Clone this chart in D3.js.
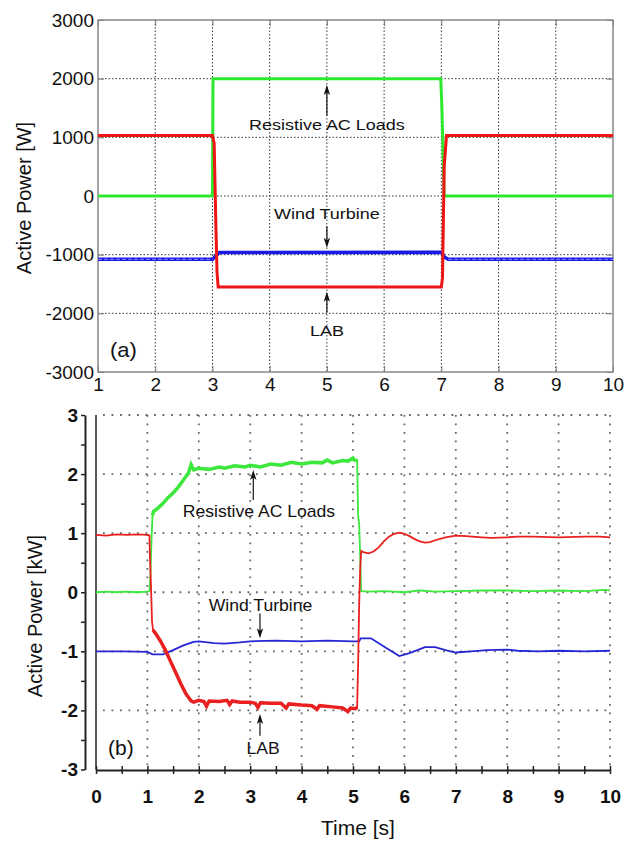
<!DOCTYPE html>
<html>
<head>
<meta charset="utf-8">
<script src="https://cdn.jsdelivr.net/npm/d3@7"></script>
<style>
  body { margin: 0; background: #fff; }
  text { font-family: "Liberation Sans", Arial, sans-serif; fill: #111; }
</style>
</head>
<body>
<svg id="chart" width="626" height="841"></svg>
<script>
// ---- panel (a): simulation, power in W ----
const timeTicksA = [1, 2, 3, 4, 5, 6, 7, 8, 9, 10];
const powerTicksA = [-3000, -2000, -1000, 0, 1000, 2000, 3000];

const loadsA = [[1, 0], [3.0, 0], [3.01, 2000], [6.99, 2000], [7.01, 1500], [7.05, 0], [10, 0]];
const labA = [[1, 1030], [3.0, 1030], [3.03, 900], [3.06, -500], [3.08, -1300], [3.1, -1550],
              [7.0, -1550], [7.02, -1400], [7.05, 500], [7.09, 1030], [10, 1030]];
const windA = [[1, -1080], [3.0, -1080], [3.05, -1030], [3.12, -965], [7.0, -960],
               [7.05, -1040], [7.12, -1080], [10, -1080]];

// ---- panel (b): experiment, power in kW ----
const timeTicksB = [0, 1, 2, 3, 4, 5, 6, 7, 8, 9, 10];
const powerTicksB = [-3, -2, -1, 0, 1, 2, 3];

const labB = [[0, 0.97], [0.2, 0.96], [0.4, 0.98], [0.6, 0.97], [0.8, 0.98], [1.0, 0.97], [1.04, 0.96],
  [1.05, 0.6], [1.07, 0.1], [1.09, -0.5], [1.11, -0.64], [1.16, -0.7], [1.25, -0.82], [1.35, -0.98],
  [1.45, -1.17], [1.55, -1.36], [1.65, -1.55], [1.75, -1.72], [1.85, -1.84], [1.9, -1.86], [2.0, -1.83],
  [2.1, -1.85], [2.15, -1.93], [2.2, -1.84], [2.4, -1.85], [2.55, -1.83], [2.6, -1.9], [2.65, -1.84],
  [2.8, -1.86], [3.0, -1.86], [3.1, -1.88], [3.15, -1.95], [3.2, -1.87], [3.4, -1.88], [3.6, -1.88],
  [3.7, -1.96], [3.75, -1.89], [4.0, -1.91], [4.2, -1.92], [4.3, -1.98], [4.35, -1.92], [4.6, -1.94],
  [4.8, -1.96], [4.9, -2.02], [4.95, -1.96], [5.05, -1.97], [5.08, -1.95], [5.1, -1.2], [5.12, -0.2],
  [5.14, 0.4], [5.16, 0.7], [5.2, 0.68], [5.3, 0.66], [5.4, 0.69], [5.5, 0.76], [5.6, 0.86], [5.7, 0.94],
  [5.8, 0.99], [5.9, 1.01], [6.0, 0.99], [6.1, 0.95], [6.2, 0.9], [6.3, 0.86], [6.4, 0.84], [6.5, 0.85],
  [6.6, 0.88], [6.8, 0.93], [7.0, 0.96], [7.2, 0.95], [7.5, 0.93], [7.7, 0.92], [8.0, 0.93], [8.2, 0.94],
  [8.5, 0.94], [9.0, 0.93], [9.5, 0.94], [9.8, 0.94], [10, 0.93]];

const loadsB = [[0, 0], [0.2, 0.01], [0.4, 0], [0.6, 0.01], [0.8, 0], [1.0, 0.01], [1.04, 0.02],
  [1.06, 0.3], [1.08, 0.9], [1.1, 1.3], [1.12, 1.37], [1.2, 1.42], [1.3, 1.5], [1.4, 1.6], [1.5, 1.68],
  [1.6, 1.78], [1.7, 1.9], [1.8, 2.02], [1.85, 2.16], [1.9, 2.07], [2.0, 2.1], [2.2, 2.08], [2.4, 2.12],
  [2.5, 2.1], [2.7, 2.14], [2.9, 2.12], [3.0, 2.15], [3.2, 2.12], [3.4, 2.17], [3.6, 2.15], [3.8, 2.2],
  [4.0, 2.17], [4.2, 2.2], [4.4, 2.19], [4.5, 2.24], [4.6, 2.19], [4.8, 2.23], [4.9, 2.22], [5.0, 2.27],
  [5.04, 2.22], [5.08, 2.24], [5.1, 1.3], [5.12, 1.15], [5.16, 0.02], [5.3, 0.01], [5.6, 0.02], [6.0, 0],
  [6.3, 0.03], [6.6, 0.01], [7.0, 0.02], [7.5, 0.03], [8.0, 0.03], [8.5, 0.02], [9.0, 0.03],
  [9.5, 0.02], [9.9, 0.04], [10, 0.03]];

const windB = [[0, -1.0], [0.5, -1.0], [1.0, -1.01], [1.1, -1.05], [1.3, -1.05], [1.5, -0.98],
  [1.7, -0.9], [1.9, -0.84], [2.0, -0.83], [2.3, -0.86], [2.5, -0.87], [2.8, -0.85], [3.0, -0.83],
  [3.5, -0.82], [4.0, -0.83], [4.5, -0.82], [5.0, -0.83], [5.12, -0.83], [5.15, -0.78], [5.35, -0.78],
  [5.6, -0.92], [5.9, -1.08], [6.1, -1.03], [6.4, -0.93], [6.6, -0.93], [6.8, -0.98], [7.0, -1.02],
  [7.3, -1.0], [7.6, -0.98], [8.0, -0.97], [8.2, -0.99], [8.6, -1.0], [9.0, -0.99], [9.5, -1.0], [10, -0.99]];

const svg = d3.select('#chart');

// stretched text helper (the source figure is a bit wider than tall)
function label(g, x, y, str, size, sx, opts = {}) {
  return g.append('text')
    .attr('transform', `translate(${x},${y}) scale(${sx},1)`)
    .attr('text-anchor', opts.anchor || 'middle')
    .attr('font-size', size)
    .attr('font-weight', opts.weight || 'normal')
    .text(str);
}

function arrow(g, x, yFrom, yTip) {
  const dir = yTip < yFrom ? 1 : -1;
  g.append('line').attr('x1', x).attr('x2', x).attr('y1', yFrom).attr('y2', yTip + dir * 6)
    .attr('stroke', '#111').attr('stroke-width', 1.2);
  g.append('path')
    .attr('d', `M${x},${yTip} L${x - 3.2},${yTip + dir * 10} L${x},${yTip + dir * 7.5} L${x + 3.2},${yTip + dir * 10} Z`)
    .attr('fill', '#111');
}

// plain integer labels with an ascii hyphen for negatives
const plain = d => String(d);

// =============== panel (a) ===============
{
  const x = d3.scaleLinear().domain([1, 10]).range([98, 613]);
  const y = d3.scaleLinear().domain([-3000, 3000]).range([372, 20]);
  const g = svg.append('g').attr('class', 'panel-a');

  // grid
  g.append('g').selectAll('line').data(timeTicksA.slice(1, -1)).join('line')
    .attr('x1', d => x(d)).attr('x2', d => x(d)).attr('y1', y(3000)).attr('y2', y(-3000))
    .attr('stroke', '#333').attr('stroke-width', 1).attr('stroke-dasharray', '1.5,2');
  g.append('g').selectAll('line').data(powerTicksA.slice(1, -1)).join('line')
    .attr('x1', x(1)).attr('x2', x(10)).attr('y1', d => y(d)).attr('y2', d => y(d))
    .attr('stroke', '#333').attr('stroke-width', 1).attr('stroke-dasharray', '1.5,2');

  // axes with inner ticks
  const ax = (sel) => {
    sel.select('.domain').remove();
    sel.selectAll('.tick line').attr('stroke', '#777');
    sel.selectAll('text').attr('font-size', 19).attr('font-family', '"Liberation Sans", Arial, sans-serif').attr('fill', '#111');
  };
  g.append('g').attr('transform', `translate(0,${y(-3000)})`)
    .call(d3.axisBottom(x).tickValues(timeTicksA).tickFormat(plain).tickSize(-6).tickPadding(6)).call(ax);
  g.append('g').attr('transform', `translate(0,${y(3000)})`)
    .call(d3.axisTop(x).tickValues(timeTicksA).tickSize(-6).tickFormat('')).call(ax);
  g.append('g').attr('transform', `translate(${x(1)},0)`)
    .call(d3.axisLeft(y).tickValues(powerTicksA).tickFormat(plain).tickSize(-6).tickPadding(4)).call(ax);
  g.append('g').attr('transform', `translate(${x(10)},0)`)
    .call(d3.axisRight(y).tickValues(powerTicksA).tickSize(-6).tickFormat('')).call(ax);

  g.append('rect').attr('x', x(1)).attr('y', y(3000))
    .attr('width', x(10) - x(1)).attr('height', y(-3000) - y(3000))
    .attr('fill', 'none').attr('stroke', '#888').attr('stroke-width', 1.5);

  const line = d3.line().x(d => x(d[0])).y(d => y(d[1]));
  g.append('path').datum(loadsA).attr('d', line).attr('fill', 'none').attr('stroke', '#2ee82e').attr('stroke-width', 3);
  g.append('path').datum(windA).attr('d', line).attr('fill', 'none').attr('stroke', '#1a1ae6').attr('stroke-width', 3.5);
  g.append('path').datum(windA.filter(d => d[0] <= 3.0)).attr('d', line).attr('fill', 'none')
    .attr('stroke', '#8a8aff').attr('stroke-width', 1).attr('stroke-dasharray', '4,2');
  g.append('path').datum(windA.filter(d => d[0] >= 7.12)).attr('d', line).attr('fill', 'none')
    .attr('stroke', '#8a8aff').attr('stroke-width', 1).attr('stroke-dasharray', '4,2');
  g.append('path').datum(labA).attr('d', line).attr('fill', 'none').attr('stroke', '#ee1515').attr('stroke-width', 3);

  // annotations
  label(g, x(5), y(1130), 'Resistive AC Loads', 15, 1.2);
  arrow(g, x(5), y(1370), y(1890));
  label(g, x(5), y(-400), 'Wind Turbine', 15, 1.2);
  arrow(g, x(5), y(-515), y(-880));
  label(g, x(5), y(-2390), 'LAB', 15, 1.2);
  arrow(g, x(5), y(-1990), y(-1630));
  label(g, 110, 357, '(a)', 20, 1.1, { anchor: 'start' });

  g.append('text').attr('transform', `translate(31,${(y(3000) + y(-3000)) / 2 + 2}) rotate(-90)`)
    .attr('text-anchor', 'middle').attr('font-size', 20).text('Active Power [W]');
}

// =============== panel (b) ===============
{
  const x = d3.scaleLinear().domain([0, 10]).range([96, 610]);
  const y = d3.scaleLinear().domain([-3, 3]).range([769.5, 415]);
  const g = svg.append('g').attr('class', 'panel-b');

  // dotted grid
  g.append('g').selectAll('line').data(timeTicksB.slice(1)).join('line')
    .attr('x1', d => x(d)).attr('x2', d => x(d)).attr('y1', y(3)).attr('y2', y(-3))
    .attr('stroke', '#666').attr('stroke-width', 1.8).attr('stroke-dasharray', '1.8,6.7');
  g.append('g').selectAll('line').data(powerTicksB.slice(1)).join('line')
    .attr('x1', x(0) + 7).attr('x2', x(10)).attr('y1', d => y(d)).attr('y2', d => y(d))
    .attr('stroke', '#666').attr('stroke-width', 1.8).attr('stroke-dasharray', '1.8,6.7');

  // plot left border
  g.append('line').attr('x1', x(0)).attr('x2', x(0)).attr('y1', y(3)).attr('y2', y(-3))
    .attr('stroke', '#222').attr('stroke-width', 1.5);

  const style = (sel) => {
    sel.select('.domain').attr('stroke', '#222').attr('stroke-width', 2);
    sel.selectAll('.tick line').attr('stroke', '#222').attr('stroke-width', 1.5);
    sel.selectAll('text').attr('font-size', 19).attr('font-weight', 'bold')
      .attr('font-family', '"Liberation Sans", Arial, sans-serif').attr('fill', '#111');
  };

  // y axis, offset to the left of the plot
  g.append('g').attr('transform', 'translate(85,0)')
    .call(d3.axisLeft(y).tickValues(d3.range(-3, 3.01, 0.5)).tickSize(4).tickSizeOuter(0).tickPadding(3)
      .tickFormat(d => powerTicksB.includes(d) ? plain(d) : ''))
    .call(style);

  // x axis with crossing ticks every 0.5 s
  const xa = g.append('g').attr('transform', `translate(0,${y(-3) + 0.5})`)
    .call(d3.axisBottom(x).tickValues(d3.range(0, 10.01, 0.5)).tickSize(4).tickSizeOuter(0).tickPadding(16)
      .tickFormat(d => timeTicksB.includes(d) ? plain(d) : ''))
    .call(style);
  xa.selectAll('.tick line').attr('y1', -4);

  const line = d3.line().x(d => x(d[0])).y(d => y(d[1]));
  g.append('path').datum(windB).attr('d', line).attr('fill', 'none').attr('stroke', '#2626d4').attr('stroke-width', 1.8);
  g.append('path').datum(loadsB).attr('d', line).attr('fill', 'none').attr('stroke', '#3be83b').attr('stroke-width', 1.8);
  g.append('path').datum(loadsB.filter(d => d[0] >= 1.1 && d[0] <= 5.05)).attr('d', line).attr('fill', 'none')
    .attr('stroke', '#3be83b').attr('stroke-width', 3.5);
  g.append('path').datum(labB).attr('d', line).attr('fill', 'none').attr('stroke', '#ea2020').attr('stroke-width', 1.8);
  g.append('path').datum(labB.filter(d => d[0] >= 1.11 && d[0] <= 5.08)).attr('d', line).attr('fill', 'none')
    .attr('stroke', '#ea2020').attr('stroke-width', 3.5);

  // annotations
  label(g, x(3.17), y(1.27), 'Resistive AC Loads', 16, 1.1);
  arrow(g, x(3.06), y(1.56), y(2.07));
  label(g, x(3.2), y(-0.31), 'Wind Turbine', 16, 1.1);
  arrow(g, x(3.19), y(-0.36), y(-0.78));
  label(g, x(3.25), y(-2.74), 'LAB', 16, 1.1);
  arrow(g, x(3.19), y(-2.43), y(-2.06));
  label(g, 108, 755, '(b)', 20, 1.05, { anchor: 'start' });

  g.append('text').attr('transform', `translate(42,616) rotate(-90)`)
    .attr('text-anchor', 'middle').attr('font-size', 20).text('Active Power [kW]');
  g.append('text').attr('x', 358).attr('y', 835).attr('text-anchor', 'middle')
    .attr('font-size', 21).text('Time [s]');
}
</script>
</body>
</html>
